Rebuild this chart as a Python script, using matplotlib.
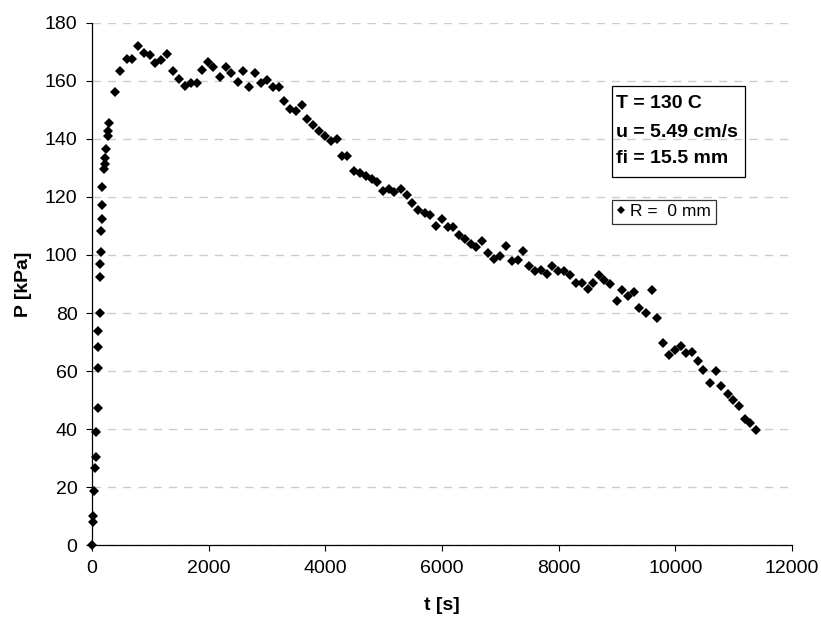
import numpy as np
import matplotlib
matplotlib.use("Agg")
import matplotlib.pyplot as plt
from matplotlib.patches import Rectangle

plt.rcParams['font.family'] = ['Liberation Sans', 'DejaVu Sans']

# tiempo [s] y presion [kPa] medidos en R = 0 mm
t = [0, 11, 23, 40, 46, 69, 69, 97, 97, 108, 108, 131, 131, 131, 154, 154,
     171, 171, 177, 206, 217, 228, 246, 274, 280, 297, 394, 486, 594, 691,
     788, 885, 988, 1085, 1188, 1285, 1393, 1490, 1587, 1690, 1798, 1890,
     1987, 2073, 2187, 2290, 2382, 2496, 2593, 2690, 2799, 2896, 2993, 3096,
     3204, 3296, 3393, 3490, 3593, 3690, 3792, 3889, 3992, 4095, 4192, 4278,
     4375, 4491, 4594, 4691, 4793, 4891, 4982, 5090, 5182, 5290, 5393, 5490,
     5594, 5708, 5794, 5896, 5993, 6096, 6193, 6290, 6393, 6490, 6581, 6690,
     6793, 6896, 6993, 7096, 7204, 7307, 7381, 7495, 7593, 7690, 7792, 7889,
     7992, 8089, 8193, 8295, 8393, 8496, 8593, 8696, 8781, 8879, 8993, 9078,
     9193, 9290, 9381, 9495, 9604, 9678, 9792, 9895, 9992, 10089, 10180,
     10289, 10380, 10477, 10592, 10689, 10780, 10894, 10991, 11088, 11191,
     11288, 11391]
P = [0, 8, 10, 18.7, 26.7, 30.6, 39.2, 47.4, 61, 68.2, 73.8, 80.1, 92.4, 96.8,
     100.9, 108.3, 112.3, 117.1, 123.4, 129.5, 131.2, 133.5, 136.3, 140.9,
     142.6, 145.3, 156.2, 163.4, 167.6, 167.6, 172, 169.5, 168.9, 166, 167.2,
     169.1, 163.4, 160.6, 158.1, 159.2, 159.2, 163.8, 166.3, 164.6, 161.1,
     164.6, 162.6, 159.6, 163.4, 157.9, 162.6, 159.3, 160.2, 157.9, 157.9,
     152.9, 150.3, 149.7, 151.7, 146.8, 144.8, 142.7, 140.9, 139.2, 140, 134,
     134, 129, 128.2, 127.1, 126.1, 125.2, 122, 122.6, 121.7, 122.6, 120.5,
     117.9, 115.6, 114.5, 113.9, 110.1, 112.5, 109.5, 109.5, 107, 105.5,
     103.9, 102.6, 104.7, 100.5, 98.7, 99.6, 103, 97.9, 98.1, 101.2, 96.2,
     94.6, 94.8, 93.3, 96.3, 94.3, 94.3, 93.2, 90.5, 90.5, 88.2, 90.5, 93.2,
     91.4, 90, 84.3, 88, 85.7, 87.1, 81.7, 79.9, 87.8, 78.2, 69.8, 65.5,
     67.3, 68.7, 66.1, 66.6, 63.5, 60.3, 55.9, 59.9, 54.8, 52, 50.2, 47.9,
     43.7, 42.2, 39.9]

condiciones = ['T = 130 C', 'u = 5.49 cm/s', 'fi = 15.5 mm']
serie = 'R =  0 mm'

fig = plt.figure(figsize=(8.21, 6.2), dpi=100)
ax = fig.add_axes([0.1121, 0.1202, 0.8526, 0.8435])

ax.plot(t, P, linestyle='none', marker='D', ms=4.8, color='black',
        mew=0, clip_on=False, label=serie, zorder=3)

ax.set_xlim(0, 12000)
ax.set_ylim(0, 180)
ax.set_xticks(np.arange(0, 12001, 2000))
ax.set_yticks(np.arange(0, 181, 20))
ax.tick_params(direction='out', length=4.5, width=0.8, labelsize=14, pad=6)

# lineas de division horizontales
ax.yaxis.grid(True, color='#cccccc', lw=1.0, ls=(0, (6, 5)))
ax.set_axisbelow(True)
for s in ['top', 'right']:
    ax.spines[s].set_visible(False)
for s in ['left', 'bottom']:
    ax.spines[s].set_linewidth(0.9)

ax.set_xlabel('t [s]', fontsize=14, fontweight='bold', labelpad=14)
ax.set_ylabel('P [kPa]', fontsize=14, fontweight='bold', labelpad=9)

# cuadro con las condiciones del ensayo
ax.add_patch(Rectangle((0.743, 0.7046), 0.19, 0.174, transform=ax.transAxes,
                       fill=False, edgecolor='black', lw=0.9))
for texto, yb in zip(condiciones, [0.836, 0.7816, 0.7308]):
    ax.text(0.749, yb, texto, transform=ax.transAxes, fontsize=14,
            fontweight='bold', va='baseline', ha='left')

ley = ax.legend(loc='upper left', bbox_to_anchor=(0.743, 0.6606),
                borderaxespad=0, fontsize=12.5, frameon=True, fancybox=False,
                handlelength=0.5, handletextpad=0.3, borderpad=0.25,
                markerscale=0.8)
ley.get_frame().set_edgecolor('black')
ley.get_frame().set_linewidth(0.9)

fig.savefig('out.png', dpi=100)
